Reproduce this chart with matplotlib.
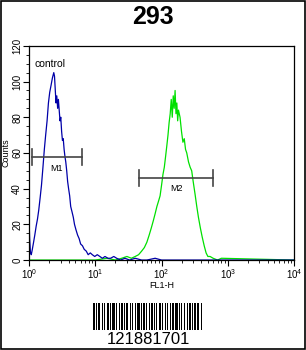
import matplotlib
matplotlib.use('Agg')
import matplotlib.pyplot as plt
from matplotlib.patches import Rectangle
from matplotlib.ticker import LogLocator, MultipleLocator, NullFormatter
import numpy as np

# 数据部分
title = '293'
sample_id = '121881701'

blue_x = [1.00, 1.02, 1.05, 1.08, 1.12, 1.17, 1.22, 1.28, 1.34, 1.40, 1.47, 1.54, 1.62, 1.70,
          1.78, 1.87, 1.96, 2.05, 2.15, 2.25, 2.36, 2.42, 2.48, 2.55, 2.62, 2.70, 2.77, 2.85,
          2.93, 3.01, 3.10, 3.19, 3.28, 3.38, 3.48, 3.58, 3.70, 3.82, 3.95, 4.10, 4.25, 4.45,
          4.65, 4.85, 5.1, 5.4, 5.7, 6.0, 6.4, 6.8, 7.3, 7.8, 8.4, 9.0, 9.8, 10.7, 11.7, 12.8,
          14, 15.5, 17, 19, 21, 24, 28, 33, 40, 50, 60, 80, 100, 10000]
blue_y = [22, 12, 4, 3, 6, 10, 14, 19, 23, 28, 35, 42, 52, 62,
          70, 78, 88, 94, 98, 102, 105, 103, 96, 88, 92, 85, 90, 84,
          78, 80, 72, 67, 68, 62, 58, 55, 50, 44, 40, 36, 30, 27,
          24, 20, 17, 14, 12, 9, 8, 6, 5, 3, 4, 3, 2, 3, 2, 1,
          2, 1, 1, 2, 1, 0, 1, 0, 1, 0, 0, 1, 0, 0]

green_x = [1, 10, 15, 20, 25, 30, 35, 40, 45, 50, 55, 60, 65, 70, 75, 80, 85, 90, 95, 100,
           105, 110, 115, 120, 125, 130, 135, 140, 145, 150, 155, 160, 165, 170, 175, 180,
           190, 200, 210, 220, 230, 240, 255, 270, 285, 300, 320, 340, 360, 385, 410, 440,
           470, 500, 540, 600, 700, 800, 10000]
green_y = [0, 0, 1, 0, 1, 2, 1, 2, 3, 5, 7, 10, 14, 18, 22, 26, 30, 33, 36, 42,
           48, 52, 58, 64, 70, 77, 82, 90, 80, 92, 85, 95, 82, 88, 78, 84,
           80, 72, 66, 68, 62, 60, 55, 52, 50, 44, 37, 30, 24, 18, 13, 8,
           4, 2, 2, 1, 0, 1, 0]

# 标记区间 M1 M2
markers = ['M1', 'M2']
marker_lo = [1.1, 46]
marker_hi = [6.25, 605]
marker_y = [57.5, 46]

# 条形码 (条/空 交替宽度)
barcode = [2, 1, 1, 1, 2, 2, 1, 1, 1, 2, 2, 1, 1, 1, 3, 1, 1, 2, 1, 1, 2, 1, 1, 1, 2, 2, 1, 1,
           1, 2, 1, 1, 3, 1, 1, 1, 2, 1, 1, 2, 1, 1, 2, 1, 1, 1, 1, 2, 2, 1, 1, 2, 1, 1, 1, 2,
           1, 1, 2, 1, 3, 1, 1, 1, 1, 2, 1, 2, 1, 1, 2, 1, 1, 1, 2, 1, 2, 2, 1, 1]

plt.rcParams['font.family'] = ['Liberation Sans', 'DejaVu Sans']

fig = plt.figure(figsize=(3.06, 3.5), dpi=100)
fig.patch.set_facecolor('white')
fig.patches.append(Rectangle((0.002, 0.002), 0.996, 0.995, transform=fig.transFigure,
                             fill=False, edgecolor='black', linewidth=1.2))

fig.text(0.5, 0.95, title, ha='center', va='center', fontsize=18, fontweight='bold')

ax = fig.add_axes([0.095, 0.257, 0.866, 0.612])
ax.plot(green_x, green_y, color='#00e000', linewidth=0.9)
ax.plot(blue_x, blue_y, color='#0000a8', linewidth=0.9)
ax.set_xscale('log')
ax.set_xlim(1, 10000)
ax.set_ylim(0, 120)

for name, lo, hi, yy in zip(markers, marker_lo, marker_hi, marker_y):
    ax.plot([lo, hi], [yy, yy], color='#444444', linewidth=1.2)
    ax.plot([lo, lo], [yy - 4.5, yy + 4.5], color='#444444', linewidth=1.2)
    ax.plot([hi, hi], [yy - 4.5, yy + 4.5], color='#444444', linewidth=1.2)
    ax.text(np.sqrt(lo * hi), yy - 6, name, ha='center', va='center', fontsize=6.5)

ax.text(1.2, 110, 'control', ha='left', va='center', fontsize=7.5)

ax.yaxis.set_major_locator(MultipleLocator(20))
ax.yaxis.set_minor_locator(MultipleLocator(5))
ax.xaxis.set_major_locator(LogLocator(base=10, numticks=10))
ax.xaxis.set_minor_locator(LogLocator(base=10, subs=np.arange(2, 10), numticks=10))
ax.xaxis.set_minor_formatter(NullFormatter())
ax.tick_params(axis='both', which='major', length=4, width=0.8, labelsize=7, pad=1)
ax.tick_params(axis='both', which='minor', length=2, width=0.6)
for lab in ax.get_yticklabels():
    lab.set_rotation(90)
    lab.set_va('center')
ax.set_ylabel('Counts', fontsize=6.5, labelpad=1)
ax.set_xlabel('FL1-H', fontsize=6.5, labelpad=0)
for sp in ax.spines.values():
    sp.set_linewidth(0.9)

# 条形码
bx = fig.add_axes([0.303, 0.057, 0.36, 0.078])
pos = 0
for i, w in enumerate(barcode):
    if i % 2 == 0:
        bx.add_patch(Rectangle((pos, 0), w, 1, color='black', linewidth=0))
    pos += w
bx.set_xlim(0, pos)
bx.set_ylim(0, 1)
bx.axis('off')
fig.text(0.485, 0.031, sample_id, ha='center', va='center', fontsize=12)

plt.savefig('out.png', dpi=100)
